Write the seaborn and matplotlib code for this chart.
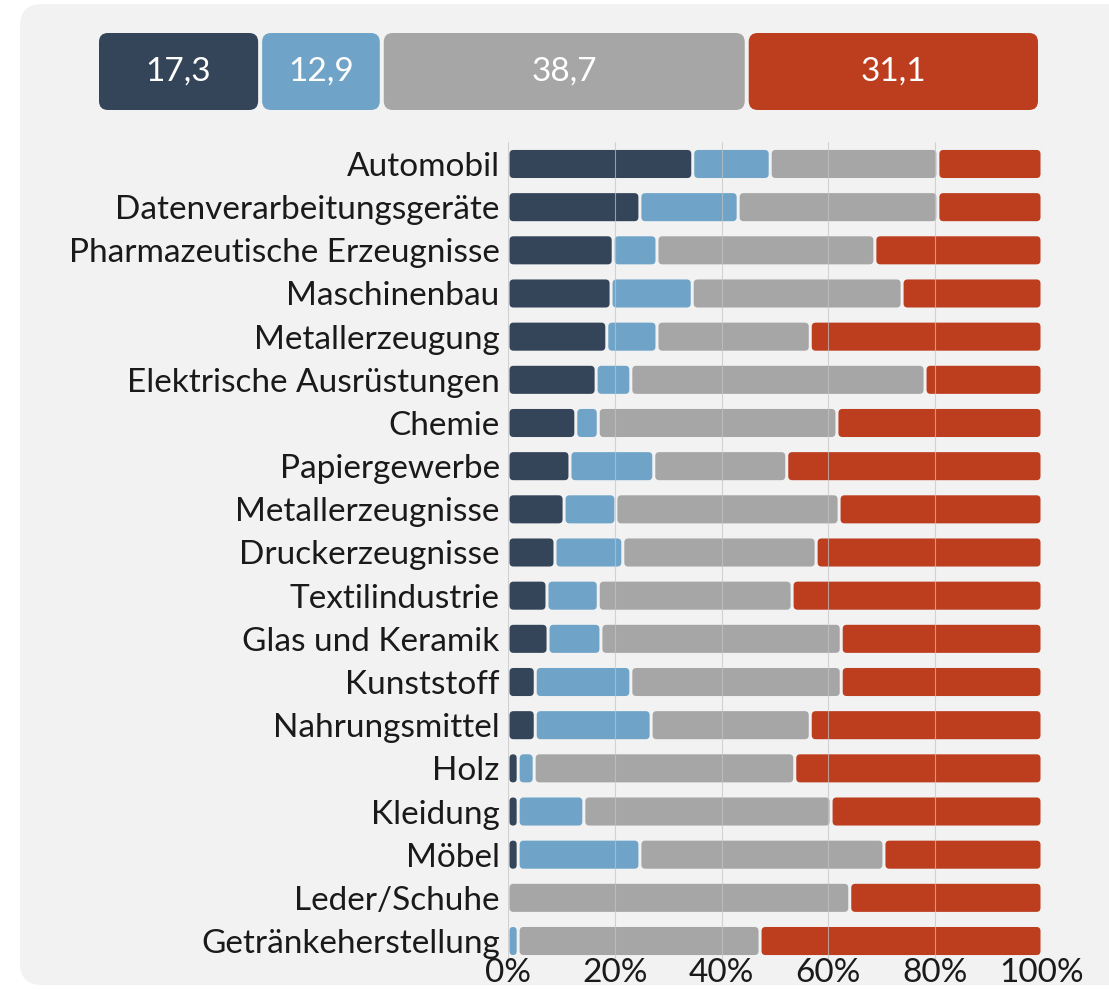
import numpy as np
import pandas as pd
import seaborn as sns
import matplotlib.pyplot as plt
from matplotlib.patches import FancyBboxPatch

# Data (shares in %)
branchen = ["Automobil", "Datenverarbeitungsgeräte", "Pharmazeutische Erzeugnisse",
            "Maschinenbau", "Metallerzeugung", "Elektrische Ausrüstungen", "Chemie",
            "Papiergewerbe", "Metallerzeugnisse", "Druckerzeugnisse", "Textilindustrie",
            "Glas und Keramik", "Kunststoff", "Nahrungsmittel", "Holz", "Kleidung",
            "Möbel", "Leder/Schuhe", "Getränkeherstellung"]
seg_dunkel = [34.6, 24.7, 19.7, 19.3, 18.5, 16.5, 12.7, 11.6, 10.5, 8.8, 7.3, 7.5,
              5.1, 5.1, 1.9, 1.9, 1.9, 0.0, 0.0]
seg_hell = [14.5, 18.4, 8.2, 15.2, 9.4, 6.5, 4.2, 15.7, 9.7, 12.7, 9.6, 9.9,
            17.9, 21.7, 3.0, 12.3, 22.8, 0.0, 1.9]
seg_grau = [31.4, 37.4, 40.8, 39.3, 28.7, 55.1, 44.7, 24.9, 41.8, 36.2, 36.3, 45.0,
            39.4, 29.8, 48.8, 46.3, 45.7, 64.0, 45.3]
seg_rot = [19.5, 19.5, 31.3, 26.2, 43.4, 21.9, 38.4, 47.8, 38.0, 42.3, 46.8, 37.6,
           37.6, 43.4, 46.3, 39.5, 29.6, 36.0, 52.8]

gesamt_werte = [17.3, 12.9, 38.7, 31.1]

farben = ["#344559", "#6fa4c8", "#a6a6a6", "#bd3e1f"]
xticks = [0, 20, 40, 60, 80, 100]

W, H = 1109, 990
sns.set_theme(style="white")
plt.rcParams["font.family"] = ["Lato", "DejaVu Sans"]

fig = plt.figure(figsize=(W / 100, H / 100), dpi=100, facecolor="white")

# rounded light grey panel in a background axes
bg = fig.add_axes([0, 0, 1, 1], zorder=-5)
bg.axis("off")
bg.set_xlim(0, W)
bg.set_ylim(H, 0)
bg.add_patch(FancyBboxPatch((20, 4), 1200, 981, boxstyle="round,pad=0,rounding_size=22",
                            fc="#f2f2f2", ec="none"))


def round_bars(ax, px_x, px_y, radius_px, gap_px):
    # swap seaborn's rectangles for rounded boxes with small gaps
    aspect = px_x / px_y
    g = gap_px / px_x / 2
    for p in list(ax.patches):
        x, y, w, h = p.get_x(), p.get_y(), p.get_width(), p.get_height()
        fc = p.get_facecolor()
        p.remove()
        if w <= 0:
            continue
        w2 = max(w - 2 * g, 0.3)
        r = min(radius_px / px_x, w2 / 2)
        ax.add_patch(FancyBboxPatch((x + g, y), w2, h,
                                    boxstyle=f"round,pad=0,rounding_size={r}",
                                    mutation_aspect=aspect, fc=fc, ec="none", zorder=1))


# main chart
ax_l, ax_r, ax_t, ax_b = 508, 1042, 142.4, 962.6
ax = fig.add_axes([ax_l / W, 1 - ax_b / H, (ax_r - ax_l) / W, (ax_b - ax_t) / H])
ax.set_facecolor("none")

left = np.zeros(len(branchen))
for vals, col in zip([seg_dunkel, seg_hell, seg_grau, seg_rot], farben):
    vals = np.array(vals)
    sns.barplot(x=vals, y=branchen, color=col, saturation=1, orient="h",
                width=0.65, errorbar=None, left=left, ax=ax)
    left = left + vals

ax.set_xlim(0, 100)
ax.set_ylim(len(branchen) - 0.5, -0.5)
round_bars(ax, (ax_r - ax_l) / 100, (ax_b - ax_t) / len(branchen), 4, 3)

ax.set_xticks(xticks)
ax.set_xticklabels([f"{t}%" for t in xticks])
ax.set_xlabel("")
ax.set_ylabel("")
ax.tick_params(axis="both", length=0, labelsize=24, colors="#1a1a1a")
ax.tick_params(axis="x", pad=-3)
ax.tick_params(axis="y", pad=6)
ax.grid(axis="x", color="#c4c4c4", lw=0.8, alpha=0.7)
ax.set_axisbelow(False)
for s in ax.spines.values():
    s.set_visible(False)

# overall bar on top
tl, tr, tt, tb = 97, 1040, 33, 110
ax2 = fig.add_axes([tl / W, 1 - tb / H, (tr - tl) / W, (tb - tt) / H])
ax2.set_facecolor("none")
start = 0.0
for v, col in zip(gesamt_werte, farben):
    sns.barplot(x=[v], y=["Gesamt"], color=col, saturation=1, orient="h",
                width=1.0, errorbar=None, left=[start], ax=ax2)
    ax2.text(start + v / 2, 0, f"{v:.1f}".replace(".", ","), ha="center",
             va="center", color="white", fontsize=24)
    start += v
ax2.set_xlim(0, 100)
ax2.set_ylim(0.5, -0.5)
round_bars(ax2, (tr - tl) / 100, tb - tt, 9, 4)
ax2.axis("off")

fig.savefig("out.png", dpi=100, facecolor="white")
